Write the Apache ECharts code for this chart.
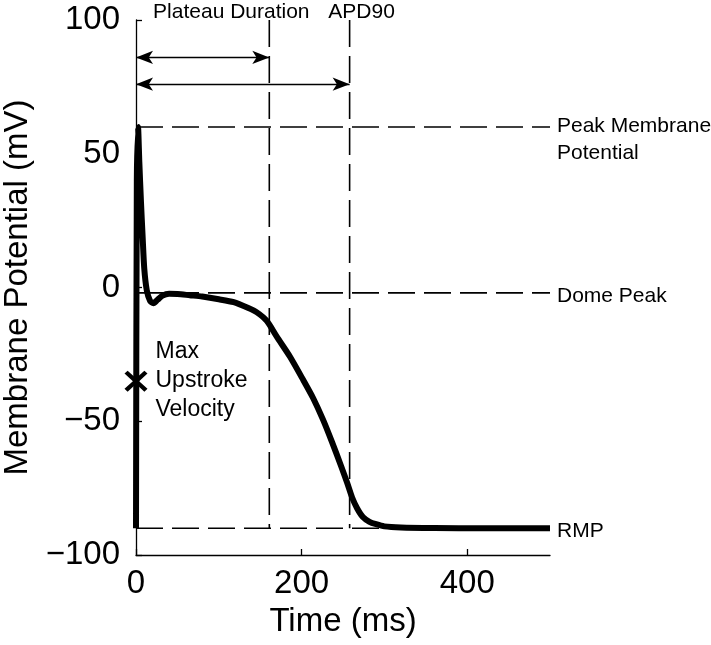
<!DOCTYPE html>
<html>
<head>
<meta charset="utf-8">
<script src="https://cdn.jsdelivr.net/npm/echarts@6/dist/echarts.min.js"></script>
<style>
    html, body { margin: 0; padding: 0; background: #fff; }
    #main { width: 711px; height: 645px; }
</style>
</head>
<body>
<div id="main"></div>
<script>
// action potential trace, time (ms) vs membrane potential (mV)
var timeMs = [0, 1, 2.5, 4, 6, 8, 10, 13, 17, 21, 26, 32, 40, 50, 65, 80, 100, 118, 135, 146, 158, 170, 186,
    202, 214, 226, 237, 248, 255, 261, 267, 274, 282, 290, 300, 320, 360, 420, 500];
var potential = [-90, 40, 60, 47, 32, 19, 7, -1, -5, -5.9, -4.6, -3, -2.3, -2.4, -2.9, -3.4, -4.4, -5.5, -7.6, -9.3, -12.5, -18.4, -25.9,
    -34.6, -41.4, -49.5, -58, -67, -73, -78.5, -82.5, -85.8, -87.6, -88.5, -89.3, -89.7, -89.9, -90, -90];

// horizontal reference levels (mV)
var levelValues = [60, -2, -90];
var levelNames = ['Peak Membrane\nPotential', 'Dome Peak', 'RMP'];

// durations (ms) and the heights of their arrows (mV)
var durationValues = [161, 258];
var durationNames = ['Plateau Duration', 'APD90'];
var arrowLevels = [86, 76];

var upstrokePoint = [0, -35];

var xTicks = [0, 200, 400];
var yTicks = [-100, -50, 0, 50, 100];

(function() {
    var font = "'Liberation Sans', Arial, Helvetica, sans-serif";
    var dash = [27, 9];
    var chart = echarts.init(document.getElementById('main'));

    var curve = timeMs.map(function(t, i) { return [t, potential[i]]; });

    var series = [];
    // dashed horizontal levels
    levelValues.forEach(function(v) {
        series.push({
            type: 'line', silent: true, showSymbol: false, z: 1,
            data: [[xTicks[0], v], [500, v]],
            lineStyle: { color: '#000', width: 1.6, type: dash }
        });
    });
    // dashed vertical duration lines
    durationValues.forEach(function(d) {
        series.push({
            type: 'line', silent: true, showSymbol: false, z: 1,
            data: [[d, yTicks[yTicks.length - 1]], [d, levelValues[2]]],
            lineStyle: { color: '#000', width: 1.6, type: dash }
        });
    });
    // double headed arrows
    series.push({
        type: 'line', silent: true, data: [], z: 2,
        markLine: {
            silent: true, animation: false,
            symbol: ['arrow', 'arrow'], symbolSize: [10, 17],
            label: { show: false },
            lineStyle: { color: '#000', width: 1.3, type: 'solid' },
            data: durationValues.map(function(d, i) {
                return [{ coord: [0, arrowLevels[i]] }, { coord: [d, arrowLevels[i]] }];
            })
        }
    });
    // the trace
    series.push({
        type: 'line', data: curve, showSymbol: false, z: 3, smooth: 0.25,
        lineStyle: { color: '#000', width: 6, join: 'round' }
    });
    // max upstroke velocity marker
    series.push({
        type: 'scatter', clip: false, z: 4,
        symbol: 'path://M0,3 L3,0 L11,8 L19,0 L22,3 L14,11 L22,19 L19,22 L11,14 L3,22 L0,19 L8,11 Z',
        symbolSize: [23, 21],
        itemStyle: { color: '#000', opacity: 1 },
        data: [upstrokePoint],
        label: {
            show: true, position: 'right', distance: 8,
            formatter: 'Max\nUpstroke\nVelocity',
            fontFamily: font, fontSize: 23, lineHeight: 29, color: '#000'
        }
    });
    // level labels on the right
    series.push({
        type: 'scatter', clip: false, symbolSize: 0, silent: true,
        itemStyle: { opacity: 1 },
        data: levelValues.map(function(v, i) {
            return {
                value: [500, v], name: levelNames[i],
                label: { offset: [0, i === 0 ? 13 : 3] }
            };
        }),
        label: {
            show: true, position: 'right', distance: 7,
            formatter: '{b}', fontFamily: font, fontSize: 21, lineHeight: 27, color: '#000'
        }
    });
    // duration labels above the plot
    var durOffsets = [[-38, -8], [12, -8]];
    series.push({
        type: 'scatter', clip: false, symbolSize: 0, silent: true,
        itemStyle: { opacity: 1 },
        data: durationValues.map(function(d, i) {
            return {
                value: [d, yTicks[yTicks.length - 1]], name: durationNames[i],
                label: { offset: durOffsets[i] }
            };
        }),
        label: {
            show: true, position: 'inside',
            formatter: '{b}', fontFamily: font, fontSize: 21, color: '#000'
        }
    });

    var axisLine = { show: true, onZero: false, lineStyle: { color: '#000', width: 1.3 } };

    chart.setOption({
        animation: false,
        backgroundColor: '#fff',
        grid: { left: 136, right: 161, top: 20, bottom: 90, outerBoundsMode: 'none' },
        xAxis: {
            type: 'value', min: 0, max: 500,
            axisLine: axisLine,
            axisTick: { show: true, inside: true, length: 6, customValues: xTicks, lineStyle: { color: '#000', width: 1.3 } },
            axisLabel: { customValues: xTicks, fontFamily: font, fontSize: 33, color: '#000', margin: 12 },
            splitLine: { show: false },
            name: 'Time (ms)', nameLocation: 'middle', nameGap: 50,
            nameTextStyle: { fontFamily: font, fontSize: 33, color: '#000' }
        },
        yAxis: {
            type: 'value', min: -100, max: 100, interval: 50,
            axisLine: axisLine,
            axisTick: { show: true, inside: true, length: 6, lineStyle: { color: '#000', width: 1.3 } },
            axisLabel: {
                fontFamily: font, fontSize: 33, color: '#000', margin: 16,
                formatter: function(v) { return String(v).replace('-', '\u2212'); }
            },
            splitLine: { show: false },
            name: 'Membrane Potential (mV)', nameLocation: 'middle', nameGap: 81,
            nameTextStyle: { fontFamily: font, fontSize: 33, color: '#000' }
        },
        series: series
    });
})();
</script>
</body>
</html>
